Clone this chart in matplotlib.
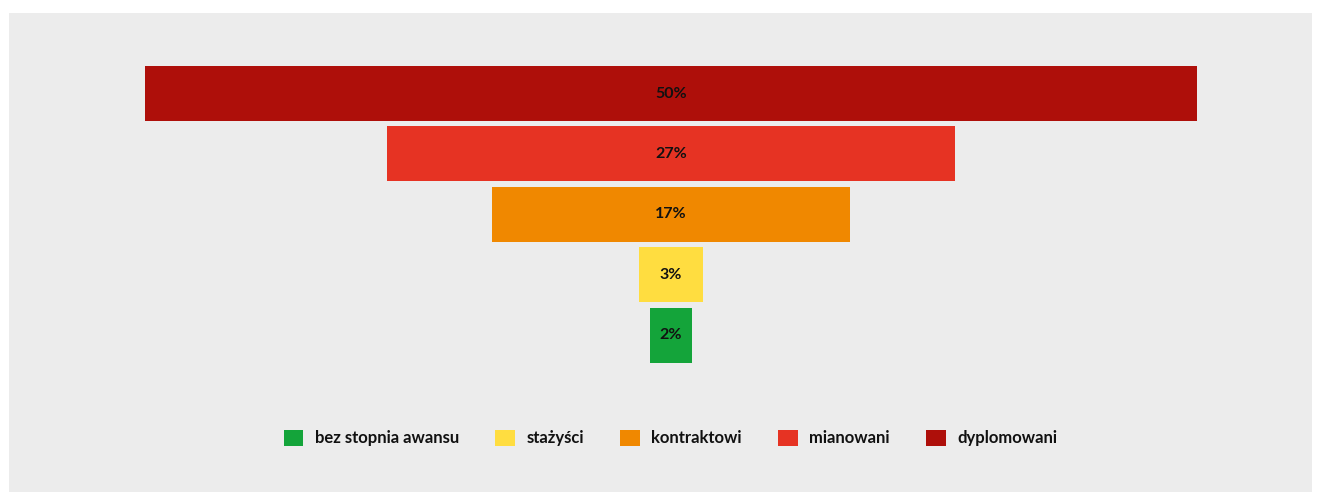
"""
Struktura nauczycieli według stopnia awansu zawodowego - wykres lejkowy.
"""

import matplotlib
matplotlib.use("Agg")
import matplotlib.pyplot as plt
from matplotlib.patches import Patch, Rectangle

plt.rcParams["font.family"] = ["Lato", "DejaVu Sans"]

# kolejność jak w legendzie (od najniższego stopnia)
categories = ["bez stopnia awansu", "stażyści", "kontraktowi", "mianowani", "dyplomowani"]
shares = [2, 3, 17, 27, 50]
colors = ["#14A43A", "#FFDD40", "#F08800", "#E63323", "#AE0F0A"]

BG = "#ECECEC"
W, H = 1322, 493

fig = plt.figure(figsize=(W / 100, H / 100), dpi=100)
fig.patch.set_facecolor("white")

# szare tło panelu
fig.patches.append(
    Rectangle((9 / W, 1 / H), 1303 / W, 479 / H, transform=fig.transFigure,
              facecolor=BG, edgecolor="none", zorder=0)
)

ax = fig.add_axes([0, 0, 1, 1])
ax.set_facecolor("none")
ax.set_zorder(1)

# skala: 50% -> 1052 px, środek lejka na x=671 px
px_per_pct = 1052 / 50
ax.set_xlim(-671 / px_per_pct, (W - 671) / px_per_pct)
row_step = 60.4
ax.set_ylim((H - 93.5) / row_step, -93.5 / row_step)

# rysowanie od największego udziału (góra) do najmniejszego
order = list(reversed(range(len(shares))))
for row, i in enumerate(order):
    val = shares[i]
    ax.barh(row, val, left=-val / 2, height=0.91, color=colors[i], edgecolor="none")
    ax.text(0, row, f"{val}%", ha="center", va="center",
            fontsize=11.5, fontweight="bold", color="#111111")

ax.axis("off")

handles = [Patch(facecolor=c, edgecolor="none") for c in colors]
leg = fig.legend(
    handles, categories,
    loc="center", bbox_to_anchor=(670.5 / W, 1 - 438 / H),
    ncol=5, frameon=False,
    prop={"weight": "bold", "size": 12},
    handlelength=1.15, handleheight=1.15,
    handletextpad=0.7, columnspacing=2.2,
)
leg.set_zorder(2)
for t in leg.get_texts():
    t.set_color("#111111")

fig.savefig("out.png", dpi=100, facecolor=fig.get_facecolor())
